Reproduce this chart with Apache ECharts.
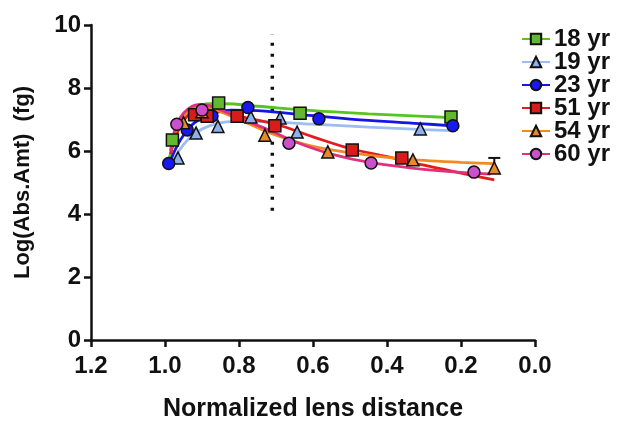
<!DOCTYPE html>
<html>
<head>
<meta charset="utf-8">
<script src="https://cdn.jsdelivr.net/npm/echarts@6/dist/echarts.min.js"></script>
<style>
html, body { margin: 0; padding: 0; background: #fff; }
#container { width: 626px; height: 432px; }
</style>
</head>
<body>
<div id="container"></div>
<script>
var ages = ['18 yr', '19 yr', '23 yr', '51 yr', '54 yr', '60 yr'];
var xTicks = [0, 0.2, 0.4, 0.6, 0.8, 1.0, 1.2];
var yTicks = [0, 2, 4, 6, 8, 10];

// measured points [distance, log amount]
var pts18 = [[0.98, 6.35], [0.855, 7.52], [0.635, 7.2], [0.227, 7.08]];
var pts19 = [[0.965, 5.78], [0.916, 6.57], [0.857, 6.78], [0.768, 7.08], [0.689, 7.05], [0.643, 6.6], [0.31, 6.7]];
var pts23 = [[0.99, 5.6], [0.94, 6.67], [0.873, 7.11], [0.776, 7.38], [0.584, 7.02], [0.222, 6.8]];
var pts51 = [[0.92, 7.15], [0.886, 7.1], [0.805, 7.1], [0.703, 6.8], [0.494, 6.03], [0.36, 5.78]];
var pts54 = [[0.95, 6.9], [0.9, 7.25], [0.73, 6.5], [0.56, 5.97], [0.33, 5.72], [0.11, 5.46]];
var pts60 = [[0.968, 6.85], [0.9, 7.3], [0.665, 6.25], [0.443, 5.62], [0.165, 5.33]];

// fitted curves
var fitX18 = [0.99, 0.97, 0.95, 0.92, 0.88, 0.84, 0.75, 0.6, 0.45, 0.3, 0.227];
var fitY18 = [5.7, 6.5, 7.0, 7.35, 7.5, 7.5, 7.42, 7.28, 7.18, 7.1, 7.06];
var fitX19 = [0.99, 0.97, 0.95, 0.92, 0.88, 0.82, 0.75, 0.6, 0.45, 0.3, 0.22];
var fitY19 = [5.4, 5.85, 6.2, 6.55, 6.8, 6.93, 6.93, 6.85, 6.76, 6.68, 6.65];
var fitX23 = [0.99, 0.97, 0.95, 0.92, 0.88, 0.82, 0.75, 0.6, 0.45, 0.3, 0.222];
var fitY23 = [5.55, 6.1, 6.5, 6.9, 7.15, 7.3, 7.28, 7.12, 6.97, 6.86, 6.8];
var fitX51 = [0.985, 0.97, 0.95, 0.92, 0.89, 0.85, 0.78, 0.7, 0.6, 0.5, 0.4, 0.3, 0.2, 0.11];
var fitY51 = [5.9, 6.5, 6.95, 7.3, 7.35, 7.25, 7.05, 6.85, 6.45, 6.08, 5.82, 5.55, 5.3, 5.08];
var fitX54 = [0.985, 0.97, 0.95, 0.92, 0.89, 0.85, 0.78, 0.7, 0.6, 0.5, 0.4, 0.3, 0.2, 0.11];
var fitY54 = [6.0, 6.7, 7.1, 7.38, 7.4, 7.25, 6.9, 6.5, 6.15, 5.95, 5.8, 5.7, 5.64, 5.6];
var fitX60 = [0.985, 0.97, 0.95, 0.92, 0.9, 0.86, 0.8, 0.71, 0.65, 0.55, 0.44, 0.3, 0.2, 0.12];
var fitY60 = [6.0, 6.8, 7.2, 7.45, 7.48, 7.35, 7.05, 6.62, 6.3, 5.9, 5.62, 5.42, 5.32, 5.27];

// error bar on last 54 yr point [x, value, top]
var err54 = [[0.11, 5.46, 5.78]];
// dotted marker line
var dotLine = [[0.71, 4.1], [0.71, 9.7]];

var lineColors = ['#55c51f', '#9dbdf0', '#1515e8', '#e41b1b', '#f08a22', '#e0307f'];
var fillColors = ['#62b82e', '#8fb0ec', '#1818f0', '#d81c1c', '#e8892a', '#cc4fcc'];
var symbols = ['rect', 'triangle', 'circle', 'rect', 'triangle', 'circle'];
var symSizes = [12, 12, 12, 12, 12, 12];

var pts = [pts18, pts19, pts23, pts51, pts54, pts60];
var fitX = [fitX18, fitX19, fitX23, fitX51, fitX54, fitX60];
var fitY = [fitY18, fitY19, fitY23, fitY51, fitY54, fitY60];

var font = 'Arial, "Liberation Sans", sans-serif';
var series = [];

ages.forEach(function (age, i) {
    series.push({
        name: age,
        type: 'line',
        smooth: 0.4,
        showSymbol: false,
        symbol: symbols[i],
        symbolSize: symSizes[i],
        lineStyle: { color: lineColors[i], width: 2.8 },
        itemStyle: { color: fillColors[i], borderColor: '#111', borderWidth: 1.5 },
        data: fitX[i].map(function (x, k) { return [x, fitY[i][k]]; }),
        z: 3
    });
});
ages.forEach(function (age, i) {
    series.push({
        name: age + ' pts',
        type: 'scatter',
        symbol: symbols[i],
        symbolSize: symSizes[i],
        itemStyle: { color: fillColors[i], borderColor: '#111', borderWidth: 1.5, opacity: 1 },
        data: pts[i],
        z: 4
    });
});

series.push({
    type: 'custom',
    name: 'err',
    data: err54,
    z: 4,
    renderItem: function (params, api) {
        var p0 = api.coord([api.value(0), api.value(1)]);
        var p1 = api.coord([api.value(0), api.value(2)]);
        var st = { stroke: '#111', lineWidth: 2 };
        return {
            type: 'group',
            children: [
                { type: 'line', shape: { x1: p0[0], y1: p0[1], x2: p1[0], y2: p1[1] }, style: st },
                { type: 'line', shape: { x1: p1[0] - 6, y1: p1[1], x2: p1[0] + 6, y2: p1[1] }, style: st }
            ]
        };
    }
});

series.push({
    type: 'line',
    name: 'marker',
    data: dotLine,
    symbol: 'none',
    lineStyle: { color: '#111', width: 3.5, type: [3, 8] },
    z: 2
});

var chart = echarts.init(document.getElementById('container'));
chart.setOption({
    animation: false,
    backgroundColor: '#fff',
    grid: { left: 91, right: 91, top: 25, bottom: 92 },
    legend: {
        data: ages,
        orient: 'vertical',
        left: 516,
        top: 22,
        itemWidth: 28,
        itemHeight: 13,
        itemGap: -1,
        textStyle: { fontFamily: font, fontWeight: 'bold', fontSize: 24, color: '#111', lineHeight: 23, padding: [0, 0, 0, -1] }
    },
    xAxis: {
        type: 'value',
        inverse: true,
        min: 0,
        max: 1.2,
        interval: 0.2,
        name: 'Normalized lens distance',
        nameLocation: 'middle',
        nameGap: 57,
        nameTextStyle: { fontFamily: font, fontWeight: 'bold', fontSize: 25, color: '#111' },
        axisLine: { onZero: false, lineStyle: { color: '#111', width: 2.5 } },
        axisTick: { show: true, length: 7, lineStyle: { color: '#111', width: 2.5 } },
        axisLabel: {
            margin: 14,
            fontFamily: font, fontWeight: 'bold', fontSize: 24, color: '#111',
            formatter: function (v) { return v.toFixed(1); }
        },
        splitLine: { show: false }
    },
    yAxis: {
        type: 'value',
        position: 'left',
        min: 0,
        max: 10,
        interval: 2,
        name: 'Log(Abs.Amt)  (fg)',
        nameLocation: 'middle',
        nameGap: 57,
        nameTextStyle: { fontFamily: font, fontWeight: 'bold', fontSize: 22, color: '#111' },
        axisLine: { show: true, onZero: false, lineStyle: { color: '#111', width: 2.5 } },
        axisTick: { show: true, length: 7, lineStyle: { color: '#111', width: 2.5 } },
        axisLabel: { margin: 10, fontFamily: font, fontWeight: 'bold', fontSize: 24, color: '#111' },
        splitLine: { show: false }
    },
    series: series
});
</script>
</body>
</html>
